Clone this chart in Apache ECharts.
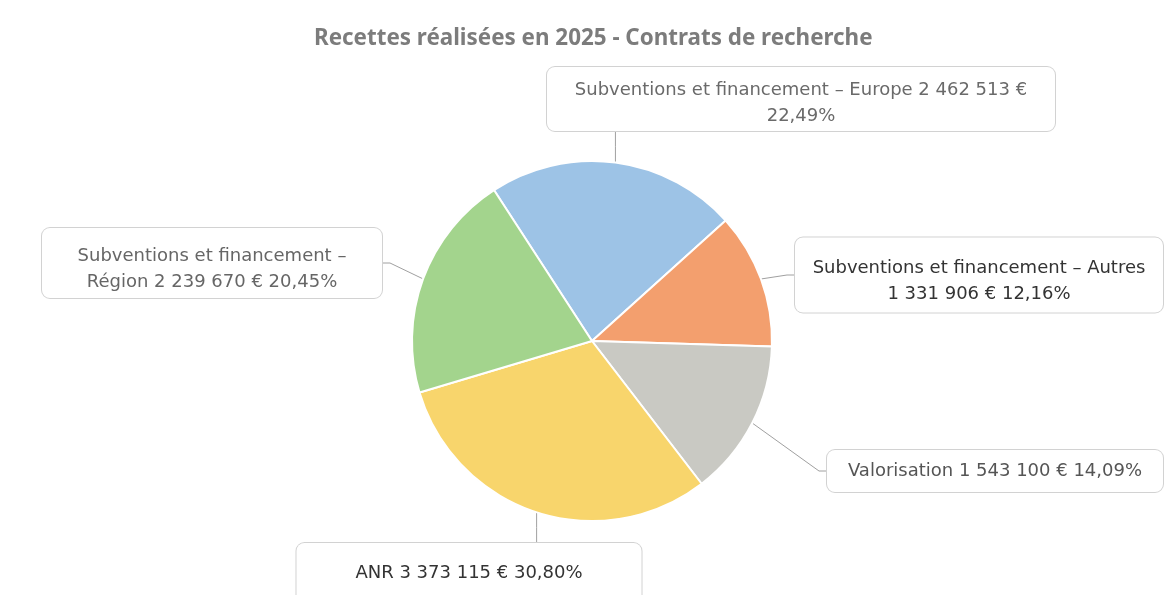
<!DOCTYPE html>
<html>
<head>
<meta charset="utf-8">
<script src="https://cdn.jsdelivr.net/npm/echarts@6/dist/echarts.min.js"></script>
<style>
  html, body { margin: 0; padding: 0; background: #fff; }
  #chart { width: 1166px; height: 595px; }
</style>
</head>
<body>
<div id="chart"></div>
<script>
// catégories et montants (ordre horaire depuis le haut gauche)
const categories = [
  'Subventions et financement – Europe',
  'Subventions et financement – Autres',
  'Valorisation',
  'ANR',
  'Subventions et financement – Région'
];
const values = [2462513, 1331906, 1543100, 3373115, 2239670];
const colors = ['#9dc3e6', '#f39f6e', '#c9c9c3', '#f8d56c', '#a3d48d'];
const total = values.reduce((s, v) => s + v, 0);

// étiquettes : centre x, centre y, largeur, hauteur, décalage vertical du texte, couleur
const boxes = [
  [801, 99, 508, 64, 4, '#6a6a6a'],
  [979, 275, 368, 75, 6, '#333'],
  [995, 471, 336, 42, 0, '#555'],
  [469, 573, 345, 60, 0, '#333'],
  [212, 263, 340, 70, 6, '#666']
];
const LINE_H = 26;

const fmtNumber = v => String(v).replace(/\B(?=(\d{3})+(?!\d))/g, ' ');
const fmtPct = v => (v / total * 100).toFixed(2).replace('.', ',') + '%';

// texte de chaque étiquette, avec les retours à la ligne du modèle
const labelText = (i, name, value) => {
  const v = fmtNumber(value) + ' €';
  const pct = fmtPct(value);
  switch (i) {
    case 0: return name + ' ' + v + '\n' + pct;
    case 1: return name + '\n' + v + ' ' + pct;
    case 4: return 'Subventions et financement –\nRégion ' + v + ' ' + pct;
    default: return name + ' ' + v + ' ' + pct;
  }
};

const chart = echarts.init(document.getElementById('chart'));

const option = {
  animation: false,
  backgroundColor: '#fff',
  title: {
    text: 'Recettes réalisées en 2025 - Contrats de recherche',
    left: 309,
    top: 23,
    textStyle: {
      fontFamily: 'Noto Sans',
      fontSize: 22.4,
      fontWeight: 'bold',
      color: '#7c7c7c'
    }
  },
  series: [
    {
      type: 'pie',
      center: [592, 341],
      radius: 180,
      startAngle: 123,
      clockwise: true,
      itemStyle: {
        borderColor: '#fff',
        borderWidth: 2
      },
      label: {
        show: true,
        fontFamily: 'DejaVu Sans',
        fontSize: 18,
        lineHeight: LINE_H,
        backgroundColor: '#fff',
        borderColor: '#d2d2d2',
        borderWidth: 1,
        borderRadius: 8,
        align: 'center',
        formatter: p => labelText(p.dataIndex, p.name, p.value)
      },
      labelLine: {
        show: true,
        length: 10,
        length2: 10,
        lineStyle: { color: '#a0a0a0', width: 1 }
      },
      // place chaque étiquette dans sa boîte et relie-la au bord du secteur
      labelLayout: params => {
        const b = boxes[params.dataIndex];
        const left = b[0] - b[2] / 2, right = b[0] + b[2] / 2;
        const top = b[1] - b[3] / 2, bottom = b[1] + b[3] / 2;
        const res = { x: b[0], y: top, align: 'center', verticalAlign: 'top' };
        const a = params.labelLinePoints && params.labelLinePoints[0];
        if (a) {
          if (a[0] >= left && a[0] <= right) {
            const ey = a[1] < top ? top : bottom;
            res.labelLinePoints = [[a[0], a[1]], [a[0], (a[1] + ey) / 2], [a[0], ey]];
          } else {
            const ex = a[0] < left ? left : right;
            const stub = a[0] < left ? -8 : 8;
            res.labelLinePoints = [[a[0], a[1]], [ex + stub, b[1]], [ex, b[1]]];
          }
        }
        return res;
      },
      data: categories.map((name, i) => {
        const b = boxes[i];
        const lines = labelText(i, name, values[i]).split('\n').length;
        const free = (b[3] - lines * LINE_H) / 2;
        return {
          name: name,
          value: values[i],
          itemStyle: { color: colors[i] },
          label: {
            width: b[2],
            padding: [free + b[4], 0, free - b[4], 0],
            color: b[5]
          }
        };
      })
    }
  ]
};

chart.setOption(option);
</script>
</body>
</html>
